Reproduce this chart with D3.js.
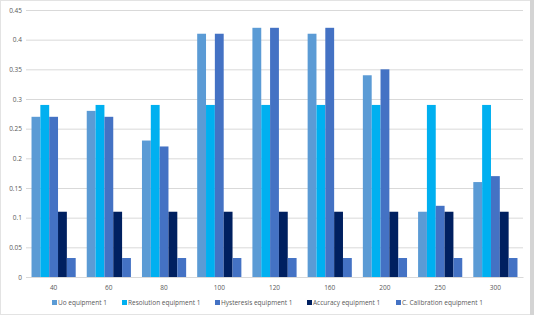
<!DOCTYPE html>
<html lang="en">
<head>
  <meta charset="UTF-8">
  <title>Equipment uncertainty chart</title>
  <script src="https://d3js.org/d3.v7.min.js"></script>
  <style>
    body { margin: 0; background: #fff; }
    svg text { font-family: "Open Sans", "Liberation Sans", sans-serif; fill: #595959; }
  </style>
</head>
<body>
  <div id="chart"></div>

  <script>
    // categories and series values
    const categories = ["40", "60", "80", "100", "120", "160", "200", "250", "300"];
    const seriesNames = ["Uo equipment 1", "Resolution equipment 1", "Hysteresis equipment 1",
                         "Accuracy equipment 1", "C. Calibration equipment 1"];
    const uo          = [0.27, 0.28, 0.23, 0.41, 0.42, 0.41, 0.34, 0.11, 0.16];
    const resolution  = [0.29, 0.29, 0.29, 0.29, 0.29, 0.29, 0.29, 0.29, 0.29];
    const hysteresis  = [0.27, 0.27, 0.22, 0.41, 0.42, 0.42, 0.35, 0.12, 0.17];
    const accuracy    = [0.11, 0.11, 0.11, 0.11, 0.11, 0.11, 0.11, 0.11, 0.11];
    const calibration = [0.032, 0.032, 0.032, 0.032, 0.032, 0.032, 0.032, 0.032, 0.032];
    const yTicks = [0, 0.05, 0.1, 0.15, 0.2, 0.25, 0.3, 0.35, 0.4, 0.45];

    const colors = ["#5b9bd5", "#00b0f0", "#4472c4", "#002060", "#4472c4"];
    const seriesValues = [uo, resolution, hysteresis, accuracy, calibration];

    const W = 534, H = 315;
    const plotL = 26, plotR = 523, plotT = 10, plotB = 277;

    const svg = d3.select("#chart").append("svg")
      .attr("width", W).attr("height", H);

    // chart frame
    svg.append("rect")
      .attr("x", 0.5).attr("y", 0.5).attr("width", 530).attr("height", H - 1)
      .attr("fill", "none").attr("stroke", "#e3e3e3");
    svg.append("rect")
      .attr("x", 530).attr("y", 0).attr("width", 4).attr("height", H)
      .attr("fill", "#d4d4d4");

    const x = d3.scaleBand().domain(categories).range([plotL, plotR])
      .paddingInner(0.2).paddingOuter(0.1);
    const xs = d3.scaleBand().domain(d3.range(seriesNames.length))
      .range([0, x.bandwidth()]);
    const y = d3.scaleLinear().domain([0, 0.45]).range([plotB, plotT]);

    // gridlines + y labels
    const yAxis = svg.append("g")
      .attr("transform", "translate(" + plotL + ",0)")
      .call(d3.axisLeft(y).tickValues(yTicks).tickSize(-(plotR - plotL)).tickPadding(4)
        .tickFormat(d => String(+d.toFixed(2))));
    yAxis.select(".domain").remove();
    yAxis.selectAll(".tick line").attr("stroke", "#d9d9d9");
    yAxis.selectAll(".tick text").style("font-size", "6.5px");

    // bars
    const groups = svg.append("g").selectAll("g")
      .data(categories)
      .join("g")
      .attr("transform", d => "translate(" + x(d) + ",0)");
    groups.selectAll("rect")
      .data((d, i) => seriesValues.map((vals, s) => ({ s: s, v: vals[i] })))
      .join("rect")
      .attr("x", d => xs(d.s))
      .attr("width", xs.bandwidth())
      .attr("y", d => y(d.v))
      .attr("height", d => y(0) - y(d.v))
      .attr("fill", d => colors[d.s]);

    // x axis
    const xAxis = svg.append("g")
      .attr("transform", "translate(0," + plotB + ")")
      .call(d3.axisBottom(x).tickSize(0).tickPadding(8));
    xAxis.select(".domain").attr("stroke", "#d9d9d9");
    xAxis.selectAll(".tick text").style("font-size", "6.5px");

    // legend
    const legendX = [52, 122, 215, 307, 396];
    const legend = svg.append("g").selectAll("g")
      .data(seriesNames)
      .join("g")
      .attr("transform", (d, i) => "translate(" + legendX[i] + ",303)");
    legend.append("rect")
      .attr("x", 0).attr("y", -3).attr("width", 5).attr("height", 5)
      .attr("fill", (d, i) => colors[i]);
    legend.append("text")
      .attr("x", 6).attr("y", 2.2)
      .style("font-size", "6.5px")
      .text(d => d);
  </script>
</body>
</html>
